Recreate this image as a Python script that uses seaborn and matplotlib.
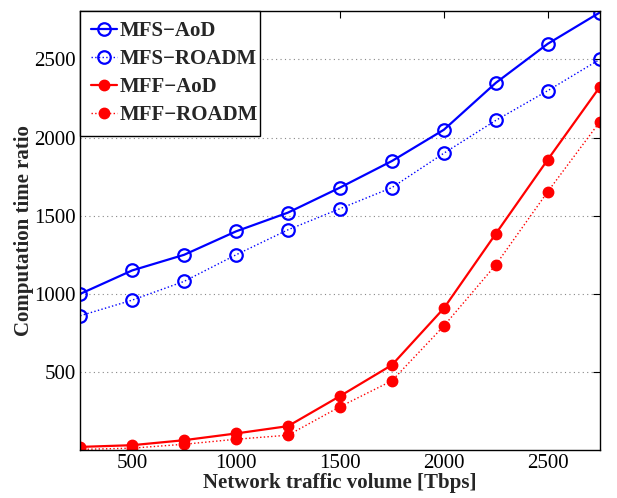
import matplotlib
matplotlib.use("Agg")
import matplotlib.pyplot as plt
import seaborn as sns
import pandas as pd

x = [250, 500, 750, 1000, 1250, 1500, 1750, 2000, 2250, 2500, 2750]
mfs_aod = [1000, 1150, 1250, 1400, 1520, 1680, 1850, 2050, 2350, 2600, 2800]
mfs_roadm = [860, 960, 1080, 1250, 1410, 1545, 1680, 1900, 2110, 2300, 2500]
mff_aod = [21, 32, 64, 107, 154, 346, 545, 908, 1385, 1859, 2323]
mff_roadm = [5, 13, 38, 70, 96, 278, 444, 795, 1186, 1654, 2100]
labels = ["MFS\u2212AoD", "MFS\u2212ROADM", "MFF\u2212AoD", "MFF\u2212ROADM"]
xticks = [500, 1000, 1500, 2000, 2500]
yticks = [500, 1000, 1500, 2000, 2500]

sns.set_style("white")
plt.rcParams['font.family'] = ['Liberation Serif', 'DejaVu Serif']

fig = plt.figure(figsize=(6.17, 4.98), dpi=100)
ax = fig.add_axes([0.13, 0.096, 0.842, 0.882])

styles = [
    dict(color="#0000ff", linestyle="-", mfc="none", ms=9, mew=1.6, lw=1.6),
    dict(color="#0000ff", linestyle=":", mfc="none", ms=9, mew=1.6, lw=1.0),
    dict(color="#ff0000", linestyle="-", mfc="#ff0000", ms=7.5, mew=1.0, lw=1.6),
    dict(color="#ff0000", linestyle=":", mfc="#ff0000", ms=7.5, mew=1.0, lw=1.0),
]
series = [mfs_aod, mfs_roadm, mff_aod, mff_roadm]
for ys, lab, st in zip(series, labels, styles):
    df = pd.DataFrame({"x": x, "y": ys})
    sns.lineplot(data=df, x="x", y="y", ax=ax, label=lab,
                 color=st["color"], linestyle=st["linestyle"], marker="o",
                 markerfacecolor=st["mfc"], markeredgecolor=st["color"],
                 markersize=st["ms"], markeredgewidth=st["mew"], linewidth=st["lw"])

ax.set_xlim(250, 2750)
ax.set_ylim(0, 2810)
ax.set_xticks(xticks)
ax.set_yticks(yticks)
ax.set_xticklabels([str(v) for v in xticks], fontsize=15)
ax.set_yticklabels([str(v) for v in yticks], fontsize=15)
ax.yaxis.grid(True, linestyle=(0, (1, 3)), color="#888888", linewidth=0.8)
ax.xaxis.grid(False)
ax.tick_params(direction="in", top=True, right=True, length=5, width=0.8, colors="black", pad=3)
for s in ax.spines.values():
    s.set_color("black")
    s.set_linewidth(1.0)
ax.set_xlabel("Network traffic volume [Tbps]", fontsize=15, fontweight="bold", labelpad=0)
ax.set_ylabel("Computation time ratio", fontsize=15, fontweight="bold", labelpad=0)

leg_w = 180.0 / (0.842 * 617)
leg = ax.legend(loc="upper left", bbox_to_anchor=(0, 1, leg_w, 0), mode="expand",
                frameon=True, fancybox=False, prop={"weight": "bold", "size": 15},
                borderaxespad=0, handlelength=1.25, handletextpad=0.15, labelspacing=0.38,
                borderpad=0.5)
leg.get_frame().set_edgecolor("black")
leg.get_frame().set_linewidth(1.0)
leg.get_frame().set_alpha(1)

fig.savefig("out.png", dpi=100)
